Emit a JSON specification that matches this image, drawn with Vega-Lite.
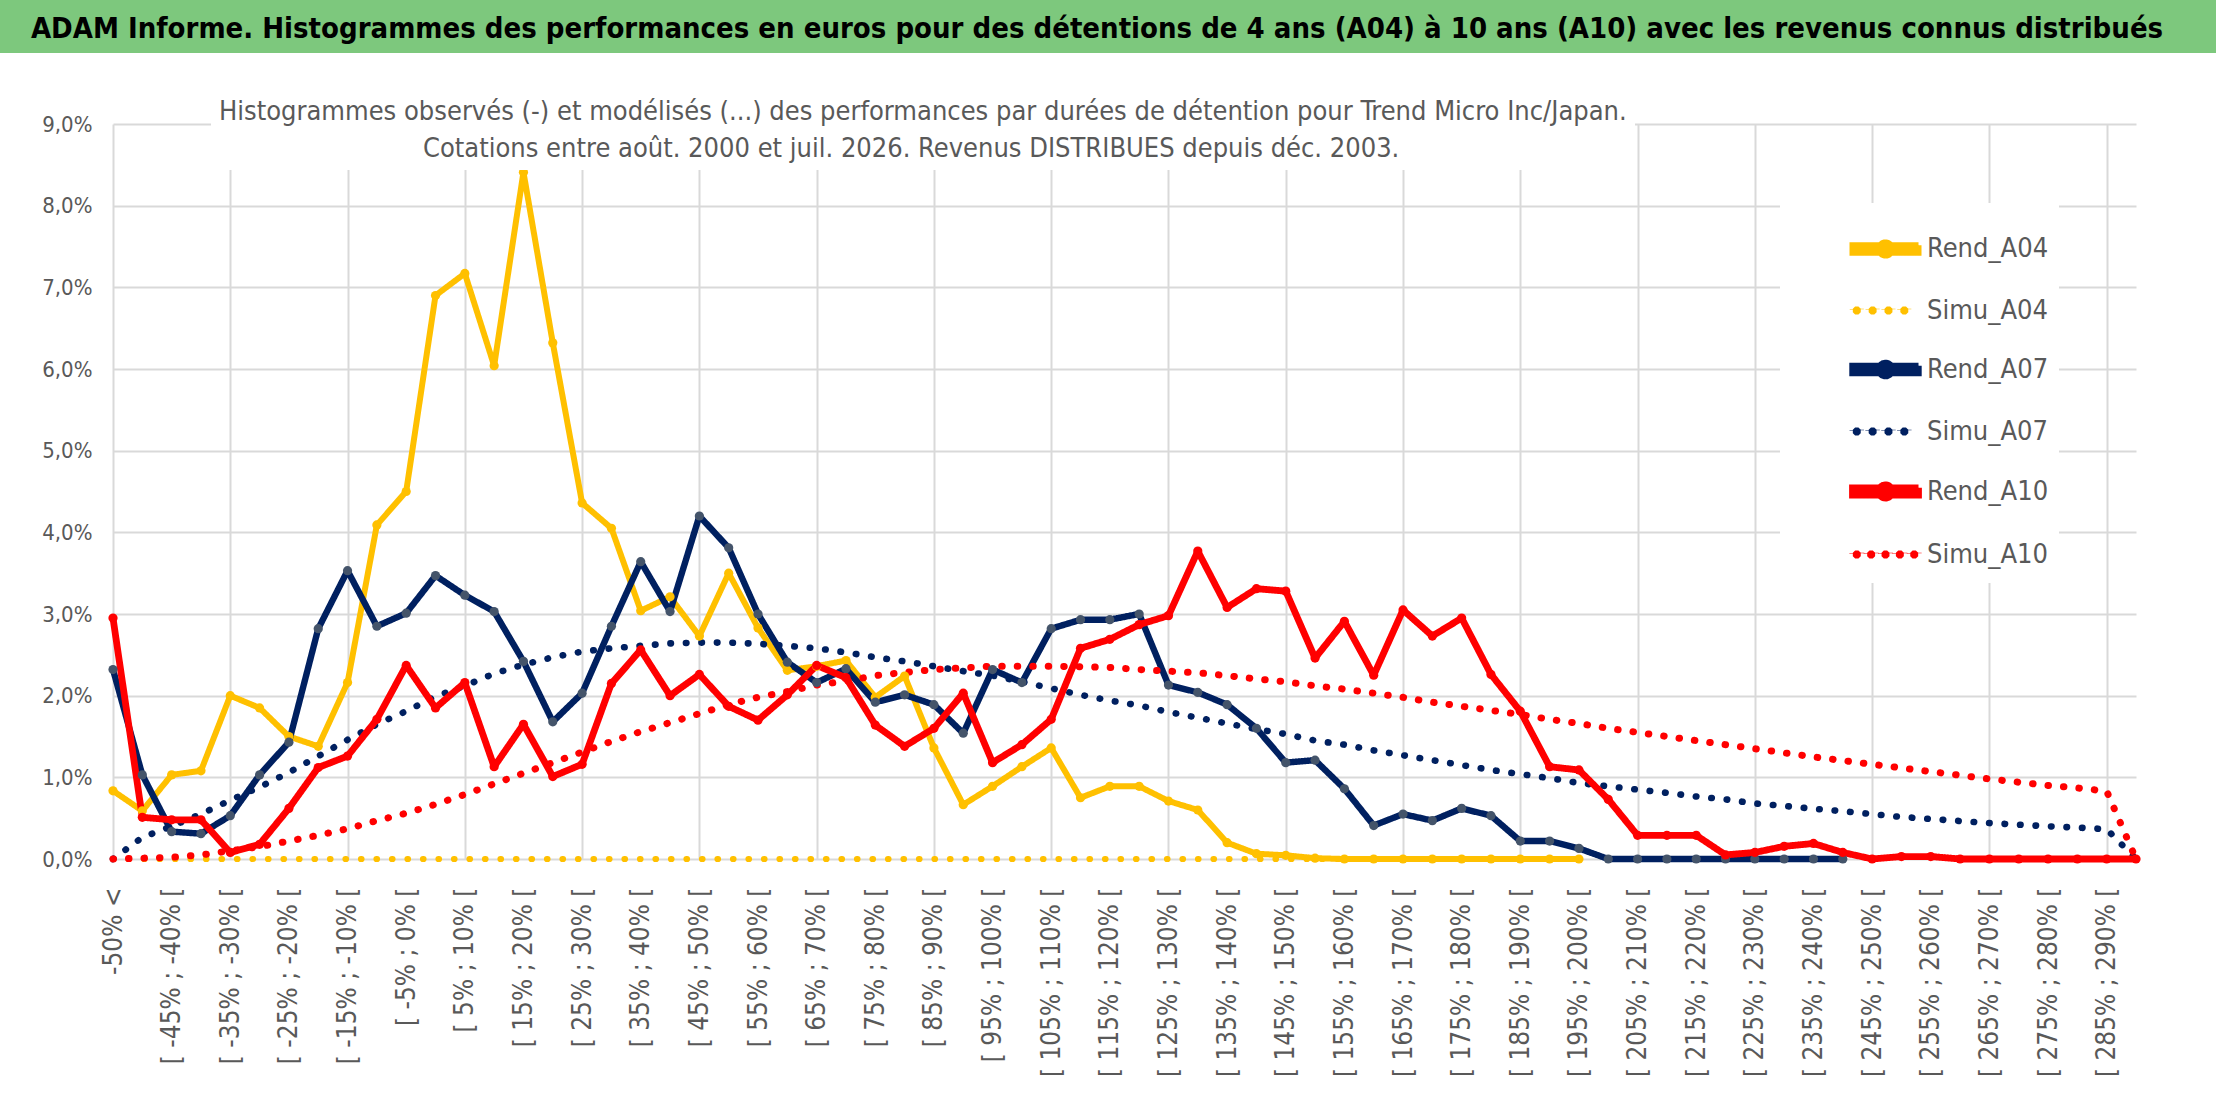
{
  "$schema": "https://vega.github.io/schema/vega-lite/v6.json",
  "background": "white",
  "padding": 0,
  "spacing": 60,
  "config": {
    "view": {"stroke": null},
    "font": "Liberation Sans Narrow, DejaVu Sans Condensed, sans-serif"
  },
  "datasets": {
    "entete": [
      {"titre": "ADAM Informe. Histogrammes des performances en euros pour des détentions de 4 ans (A04) à 10 ans (A10) avec les revenus connus distribués"}
    ],
    "vide": [],
    "perf": [
      {"classe": "-50% <", "Rend_A04": 0.835, "Simu_A04": 0, "Rend_A07": 2.32, "Simu_A07": 0.0, "Rend_A10": 2.95, "Simu_A10": 0.0},
      {"classe": "[ -50% ; -45% [", "Rend_A04": 0.59, "Simu_A04": 0, "Rend_A07": 1.03, "Simu_A07": 0.265, "Rend_A10": 0.51, "Simu_A10": 0.01},
      {"classe": "[ -45% ; -40% [", "Rend_A04": 1.03, "Simu_A04": 0, "Rend_A07": 0.335, "Simu_A07": 0.40, "Rend_A10": 0.48, "Simu_A10": 0.02},
      {"classe": "[ -40% ; -35% [", "Rend_A04": 1.08, "Simu_A04": 0, "Rend_A07": 0.31, "Simu_A07": 0.55, "Rend_A10": 0.48, "Simu_A10": 0.05},
      {"classe": "[ -35% ; -30% [", "Rend_A04": 2.00, "Simu_A04": 0, "Rend_A07": 0.53, "Simu_A07": 0.72, "Rend_A10": 0.08, "Simu_A10": 0.10},
      {"classe": "[ -30% ; -25% [", "Rend_A04": 1.85, "Simu_A04": 0, "Rend_A07": 1.03, "Simu_A07": 0.88, "Rend_A10": 0.18, "Simu_A10": 0.15},
      {"classe": "[ -25% ; -20% [", "Rend_A04": 1.50, "Simu_A04": 0, "Rend_A07": 1.43, "Simu_A07": 1.06, "Rend_A10": 0.62, "Simu_A10": 0.22},
      {"classe": "[ -20% ; -15% [", "Rend_A04": 1.38, "Simu_A04": 0, "Rend_A07": 2.82, "Simu_A07": 1.26, "Rend_A10": 1.12, "Simu_A10": 0.29},
      {"classe": "[ -15% ; -10% [", "Rend_A04": 2.16, "Simu_A04": 0, "Rend_A07": 3.53, "Simu_A07": 1.46, "Rend_A10": 1.26, "Simu_A10": 0.37},
      {"classe": "[ -10% ; -5% [", "Rend_A04": 4.09, "Simu_A04": 0, "Rend_A07": 2.85, "Simu_A07": 1.65, "Rend_A10": 1.71, "Simu_A10": 0.47},
      {"classe": "[ -5% ; 0% [", "Rend_A04": 4.50, "Simu_A04": 0, "Rend_A07": 3.01, "Simu_A07": 1.81, "Rend_A10": 2.37, "Simu_A10": 0.56},
      {"classe": "[ 0% ; 5% [", "Rend_A04": 6.90, "Simu_A04": 0, "Rend_A07": 3.47, "Simu_A07": 1.99, "Rend_A10": 1.85, "Simu_A10": 0.67},
      {"classe": "[ 5% ; 10% [", "Rend_A04": 7.17, "Simu_A04": 0, "Rend_A07": 3.23, "Simu_A07": 2.12, "Rend_A10": 2.16, "Simu_A10": 0.79},
      {"classe": "[ 10% ; 15% [", "Rend_A04": 6.04, "Simu_A04": 0, "Rend_A07": 3.03, "Simu_A07": 2.27, "Rend_A10": 1.13, "Simu_A10": 0.92},
      {"classe": "[ 15% ; 20% [", "Rend_A04": 8.41, "Simu_A04": 0, "Rend_A07": 2.42, "Simu_A07": 2.38, "Rend_A10": 1.65, "Simu_A10": 1.05},
      {"classe": "[ 20% ; 25% [", "Rend_A04": 6.32, "Simu_A04": 0, "Rend_A07": 1.68, "Simu_A07": 2.47, "Rend_A10": 1.01, "Simu_A10": 1.18},
      {"classe": "[ 25% ; 30% [", "Rend_A04": 4.36, "Simu_A04": 0, "Rend_A07": 2.03, "Simu_A07": 2.54, "Rend_A10": 1.16, "Simu_A10": 1.31},
      {"classe": "[ 30% ; 35% [", "Rend_A04": 4.05, "Simu_A04": 0, "Rend_A07": 2.85, "Simu_A07": 2.58, "Rend_A10": 2.15, "Simu_A10": 1.44},
      {"classe": "[ 35% ; 40% [", "Rend_A04": 3.04, "Simu_A04": 0, "Rend_A07": 3.64, "Simu_A07": 2.61, "Rend_A10": 2.56, "Simu_A10": 1.56},
      {"classe": "[ 40% ; 45% [", "Rend_A04": 3.21, "Simu_A04": 0, "Rend_A07": 3.03, "Simu_A07": 2.64, "Rend_A10": 2.00, "Simu_A10": 1.67},
      {"classe": "[ 45% ; 50% [", "Rend_A04": 2.73, "Simu_A04": 0, "Rend_A07": 4.20, "Simu_A07": 2.65, "Rend_A10": 2.26, "Simu_A10": 1.78},
      {"classe": "[ 50% ; 55% [", "Rend_A04": 3.50, "Simu_A04": 0, "Rend_A07": 3.81, "Simu_A07": 2.65, "Rend_A10": 1.87, "Simu_A10": 1.89},
      {"classe": "[ 55% ; 60% [", "Rend_A04": 2.83, "Simu_A04": 0, "Rend_A07": 3.00, "Simu_A07": 2.635, "Rend_A10": 1.70, "Simu_A10": 1.98},
      {"classe": "[ 60% ; 65% [", "Rend_A04": 2.31, "Simu_A04": 0, "Rend_A07": 2.41, "Simu_A07": 2.61, "Rend_A10": 2.01, "Simu_A10": 2.05},
      {"classe": "[ 65% ; 70% [", "Rend_A04": 2.36, "Simu_A04": 0, "Rend_A07": 2.16, "Simu_A07": 2.58, "Rend_A10": 2.37, "Simu_A10": 2.13},
      {"classe": "[ 70% ; 75% [", "Rend_A04": 2.43, "Simu_A04": 0, "Rend_A07": 2.33, "Simu_A07": 2.53, "Rend_A10": 2.22, "Simu_A10": 2.18},
      {"classe": "[ 75% ; 80% [", "Rend_A04": 1.98, "Simu_A04": 0, "Rend_A07": 1.92, "Simu_A07": 2.47, "Rend_A10": 1.64, "Simu_A10": 2.245},
      {"classe": "[ 80% ; 85% [", "Rend_A04": 2.24, "Simu_A04": 0, "Rend_A07": 2.01, "Simu_A07": 2.42, "Rend_A10": 1.38, "Simu_A10": 2.285},
      {"classe": "[ 85% ; 90% [", "Rend_A04": 1.36, "Simu_A04": 0, "Rend_A07": 1.89, "Simu_A07": 2.36, "Rend_A10": 1.60, "Simu_A10": 2.32},
      {"classe": "[ 90% ; 95% [", "Rend_A04": 0.665, "Simu_A04": 0, "Rend_A07": 1.54, "Simu_A07": 2.30, "Rend_A10": 2.03, "Simu_A10": 2.34},
      {"classe": "[ 95% ; 100% [", "Rend_A04": 0.89, "Simu_A04": 0, "Rend_A07": 2.32, "Simu_A07": 2.245, "Rend_A10": 1.18, "Simu_A10": 2.36},
      {"classe": "[ 100% ; 105% [", "Rend_A04": 1.13, "Simu_A04": 0, "Rend_A07": 2.16, "Simu_A07": 2.17, "Rend_A10": 1.40, "Simu_A10": 2.36},
      {"classe": "[ 105% ; 110% [", "Rend_A04": 1.36, "Simu_A04": 0, "Rend_A07": 2.82, "Simu_A07": 2.09, "Rend_A10": 1.71, "Simu_A10": 2.36},
      {"classe": "[ 110% ; 115% [", "Rend_A04": 0.75, "Simu_A04": 0, "Rend_A07": 2.93, "Simu_A07": 2.01, "Rend_A10": 2.58, "Simu_A10": 2.355},
      {"classe": "[ 115% ; 120% [", "Rend_A04": 0.89, "Simu_A04": 0, "Rend_A07": 2.93, "Simu_A07": 1.94, "Rend_A10": 2.69, "Simu_A10": 2.345},
      {"classe": "[ 120% ; 125% [", "Rend_A04": 0.89, "Simu_A04": 0, "Rend_A07": 3.00, "Simu_A07": 1.88, "Rend_A10": 2.87, "Simu_A10": 2.32},
      {"classe": "[ 125% ; 130% [", "Rend_A04": 0.71, "Simu_A04": 0, "Rend_A07": 2.13, "Simu_A07": 1.80, "Rend_A10": 2.98, "Simu_A10": 2.30},
      {"classe": "[ 130% ; 135% [", "Rend_A04": 0.60, "Simu_A04": 0, "Rend_A07": 2.04, "Simu_A07": 1.73, "Rend_A10": 3.77, "Simu_A10": 2.28},
      {"classe": "[ 135% ; 140% [", "Rend_A04": 0.20, "Simu_A04": 0, "Rend_A07": 1.89, "Simu_A07": 1.66, "Rend_A10": 3.08, "Simu_A10": 2.245},
      {"classe": "[ 140% ; 145% [", "Rend_A04": 0.065, "Simu_A04": 0, "Rend_A07": 1.60, "Simu_A07": 1.59, "Rend_A10": 3.31, "Simu_A10": 2.205},
      {"classe": "[ 145% ; 150% [", "Rend_A04": 0.045, "Simu_A04": 0, "Rend_A07": 1.18, "Simu_A07": 1.53, "Rend_A10": 3.28, "Simu_A10": 2.17},
      {"classe": "[ 150% ; 155% [", "Rend_A04": 0.01, "Simu_A04": 0, "Rend_A07": 1.21, "Simu_A07": 1.45, "Rend_A10": 2.46, "Simu_A10": 2.12},
      {"classe": "[ 155% ; 160% [", "Rend_A04": 0, "Simu_A04": 0, "Rend_A07": 0.86, "Simu_A07": 1.40, "Rend_A10": 2.91, "Simu_A10": 2.08},
      {"classe": "[ 160% ; 165% [", "Rend_A04": 0, "Simu_A04": 0, "Rend_A07": 0.41, "Simu_A07": 1.33, "Rend_A10": 2.25, "Simu_A10": 2.03},
      {"classe": "[ 165% ; 170% [", "Rend_A04": 0, "Simu_A04": 0, "Rend_A07": 0.55, "Simu_A07": 1.27, "Rend_A10": 3.05, "Simu_A10": 1.98},
      {"classe": "[ 170% ; 175% [", "Rend_A04": 0, "Simu_A04": 0, "Rend_A07": 0.47, "Simu_A07": 1.21, "Rend_A10": 2.73, "Simu_A10": 1.92},
      {"classe": "[ 175% ; 180% [", "Rend_A04": 0, "Simu_A04": 0, "Rend_A07": 0.62, "Simu_A07": 1.15, "Rend_A10": 2.95, "Simu_A10": 1.87},
      {"classe": "[ 180% ; 185% [", "Rend_A04": 0, "Simu_A04": 0, "Rend_A07": 0.53, "Simu_A07": 1.09, "Rend_A10": 2.26, "Simu_A10": 1.82},
      {"classe": "[ 185% ; 190% [", "Rend_A04": 0, "Simu_A04": 0, "Rend_A07": 0.22, "Simu_A07": 1.04, "Rend_A10": 1.81, "Simu_A10": 1.77},
      {"classe": "[ 190% ; 195% [", "Rend_A04": 0, "Simu_A04": 0, "Rend_A07": 0.22, "Simu_A07": 0.99, "Rend_A10": 1.13, "Simu_A10": 1.71},
      {"classe": "[ 195% ; 200% [", "Rend_A04": 0, "Simu_A04": 0, "Rend_A07": 0.13, "Simu_A07": 0.93, "Rend_A10": 1.09, "Simu_A10": 1.66},
      {"classe": "[ 200% ; 205% [", "Rend_A07": 0, "Simu_A07": 0.89, "Rend_A10": 0.73, "Simu_A10": 1.60},
      {"classe": "[ 205% ; 210% [", "Rend_A07": 0, "Simu_A07": 0.85, "Rend_A10": 0.29, "Simu_A10": 1.55},
      {"classe": "[ 210% ; 215% [", "Rend_A07": 0, "Simu_A07": 0.81, "Rend_A10": 0.29, "Simu_A10": 1.50},
      {"classe": "[ 215% ; 220% [", "Rend_A07": 0, "Simu_A07": 0.765, "Rend_A10": 0.29, "Simu_A10": 1.45},
      {"classe": "[ 220% ; 225% [", "Rend_A07": 0, "Simu_A07": 0.73, "Rend_A10": 0.05, "Simu_A10": 1.40},
      {"classe": "[ 225% ; 230% [", "Rend_A07": 0, "Simu_A07": 0.68, "Rend_A10": 0.08, "Simu_A10": 1.35},
      {"classe": "[ 230% ; 235% [", "Rend_A07": 0, "Simu_A07": 0.65, "Rend_A10": 0.155, "Simu_A10": 1.30},
      {"classe": "[ 235% ; 240% [", "Rend_A07": 0, "Simu_A07": 0.615, "Rend_A10": 0.19, "Simu_A10": 1.25},
      {"classe": "[ 240% ; 245% [", "Rend_A07": 0, "Simu_A07": 0.585, "Rend_A10": 0.08, "Simu_A10": 1.205},
      {"classe": "[ 245% ; 250% [", "Simu_A07": 0.55, "Rend_A10": 0, "Simu_A10": 1.16},
      {"classe": "[ 250% ; 255% [", "Simu_A07": 0.515, "Rend_A10": 0.03, "Simu_A10": 1.115},
      {"classe": "[ 255% ; 260% [", "Simu_A07": 0.49, "Rend_A10": 0.03, "Simu_A10": 1.07},
      {"classe": "[ 260% ; 265% [", "Simu_A07": 0.465, "Rend_A10": 0, "Simu_A10": 1.025},
      {"classe": "[ 265% ; 270% [", "Simu_A07": 0.44, "Rend_A10": 0, "Simu_A10": 0.98},
      {"classe": "[ 270% ; 275% [", "Simu_A07": 0.42, "Rend_A10": 0, "Simu_A10": 0.94},
      {"classe": "[ 275% ; 280% [", "Simu_A07": 0.40, "Rend_A10": 0, "Simu_A10": 0.90},
      {"classe": "[ 280% ; 285% [", "Simu_A07": 0.385, "Rend_A10": 0, "Simu_A10": 0.87},
      {"classe": "[ 285% ; 290% [", "Simu_A07": 0.365, "Rend_A10": 0, "Simu_A10": 0.83},
      {"classe": "> 290%", "Simu_A07": 0.0, "Rend_A10": 0, "Simu_A10": 0.0}
    ]
  },
  "vconcat": [
    {
      "width": 2216,
      "height": 53,
      "view": {"fill": "#7DC87D", "stroke": null},
      "data": {"name": "entete"},
      "mark": {"type": "text", "fontSize": 29, "fontWeight": "bold", "color": "#000000", "align": "center", "baseline": "middle", "dx": -11, "dy": 2},
      "encoding": {"text": {"field": "titre", "type": "nominal"}}
    },
    {
      "spacing": 0,
      "hconcat": [
        {
          "width": 1,
          "height": 1,
          "data": {"name": "vide"},
          "mark": {"type": "point", "opacity": 0}
        },
        {
          "width": 2023,
          "height": 735,
          "data": {"name": "perf"},
          "transform": [
            {"fold": ["Rend_A04", "Simu_A04", "Rend_A07", "Simu_A07", "Rend_A10", "Simu_A10"], "as": ["serie", "val"]},
            {"filter": "isValid(datum.val)"}
          ],
          "encoding": {
            "x": {
              "field": "classe",
              "type": "nominal",
              "sort": null,
              "scale": {"type": "point", "padding": 0},
              "axis": {
                "title": null,
                "values": ["-50% <", "[ -45% ; -40% [", "[ -35% ; -30% [", "[ -25% ; -20% [", "[ -15% ; -10% [", "[ -5% ; 0% [", "[ 5% ; 10% [", "[ 15% ; 20% [", "[ 25% ; 30% [", "[ 35% ; 40% [", "[ 45% ; 50% [", "[ 55% ; 60% [", "[ 65% ; 70% [", "[ 75% ; 80% [", "[ 85% ; 90% [", "[ 95% ; 100% [", "[ 105% ; 110% [", "[ 115% ; 120% [", "[ 125% ; 130% [", "[ 135% ; 140% [", "[ 145% ; 150% [", "[ 155% ; 160% [", "[ 165% ; 170% [", "[ 175% ; 180% [", "[ 185% ; 190% [", "[ 195% ; 200% [", "[ 205% ; 210% [", "[ 215% ; 220% [", "[ 225% ; 230% [", "[ 235% ; 240% [", "[ 245% ; 250% [", "[ 255% ; 260% [", "[ 265% ; 270% [", "[ 275% ; 280% [", "[ 285% ; 290% ["],
                "labelAngle": 270,
                "labelFontSize": 26,
                "labelColor": "#595959",
                "labelPadding": 28,
                "labelLimit": 400,
                "labelOverlap": false,
                "ticks": false,
                "domain": false,
                "grid": true,
                "gridColor": "#D9D9D9",
                "gridWidth": 2,
                "gridOpacity": {
                  "condition": {"test": "datum.value == '-50% <' || (toNumber(substring(datum.value, 2, indexof(datum.value, '%'))) + 35) % 20 == 0", "value": 1},
                  "value": 0
                }
              }
            },
            "y": {
              "field": "val",
              "type": "quantitative",
              "scale": {"domain": [0, 9], "nice": false},
              "axis": {
                "title": null,
                "values": [0, 1, 2, 3, 4, 5, 6, 7, 8, 9],
                "labelExpr": "replace(format(datum.value, '.1f'), '.', ',') + '%'",
                "labelFontSize": 22,
                "labelColor": "#595959",
                "labelPadding": 21,
                "ticks": false,
                "domain": false,
                "gridColor": "#D9D9D9",
                "gridWidth": 2,
                "minExtent": 112,
                "maxExtent": 112
              }
            }
          },
          "layer": [
            {
              "mark": {"type": "line", "strokeCap": "round", "strokeJoin": "round"},
              "encoding": {
                "color": {
                  "field": "serie",
                  "type": "nominal",
                  "scale": {
                    "domain": ["Rend_A04", "Simu_A04", "Rend_A07", "Simu_A07", "Rend_A10", "Simu_A10"],
                    "range": ["#FFC000", "#FFC000", "#002060", "#002060", "#FF0000", "#FF0000"]
                  },
                  "legend": {
                    "orient": "none",
                    "legendX": 1780,
                    "legendY": 203,
                    "title": null,
                    "fillColor": "white",
                    "padding": 10,
                    "symbolOffset": 59,
                    "symbolSize": 4356,
                    "rowPadding": 6,
                    "labelOffset": 5,
                    "labelFontSize": 27,
                    "labelLimit": 400,
                    "labelColor": "#595959",
                    "labelExpr": "datum.label + '\u00a0\u00a0\u00a0\u00a0\u00a0'",
                    "encode": {
                      "symbols": {
                        "update": {
                          "shape": {"signal": "indexof(datum.value, 'Rend') == 0 ? 'M-1,-0.11H1V0.11H-1Z M-0.2,0A0.2,0.2 0 1,1 0.2,0A0.2,0.2 0 1,1 -0.2,0Z' : (datum.value == 'Simu_A10' ? 'M-0.75,-0.05L-0.75,0.05L-0.82,0.12L-0.92,0.12L-0.99,0.05L-0.99,-0.05L-0.92,-0.12L-0.82,-0.12Z M-0.315,-0.05L-0.315,0.05L-0.385,0.12L-0.485,0.12L-0.555,0.05L-0.555,-0.05L-0.485,-0.12L-0.385,-0.12Z M0.12,-0.05L0.12,0.05L0.05,0.12L-0.05,0.12L-0.12,0.05L-0.12,-0.05L-0.05,-0.12L0.05,-0.12Z M0.555,-0.05L0.555,0.05L0.485,0.12L0.385,0.12L0.315,0.05L0.315,-0.05L0.385,-0.12L0.485,-0.12Z M0.99,-0.05L0.99,0.05L0.92,0.12L0.82,0.12L0.75,0.05L0.75,-0.05L0.82,-0.12L0.92,-0.12Z' : 'M-0.75,-0.05L-0.75,0.05L-0.82,0.12L-0.92,0.12L-0.99,0.05L-0.99,-0.05L-0.92,-0.12L-0.82,-0.12Z M-0.27,-0.05L-0.27,0.05L-0.34,0.12L-0.44,0.12L-0.51,0.05L-0.51,-0.05L-0.44,-0.12L-0.34,-0.12Z M0.21,-0.05L0.21,0.05L0.14,0.12L0.04,0.12L-0.03,0.05L-0.03,-0.05L0.04,-0.12L0.14,-0.12Z M0.69,-0.05L0.69,0.05L0.62,0.12L0.52,0.12L0.45,0.05L0.45,-0.05L0.52,-0.12L0.62,-0.12Z')"},
                          "fill": {"signal": "indexof(datum.value, 'A04') >= 0 ? '#FFC000' : (indexof(datum.value, 'A07') >= 0 ? '#002060' : '#FF0000')"},
                          "stroke": {"value": "transparent"},
                          "strokeWidth": {"value": 0},
                          "opacity": {"value": 1}
                        }
                      }
                    }
                  }
                },
                "strokeDash": {
                  "field": "serie",
                  "type": "nominal",
                  "scale": {
                    "domain": ["Rend_A04", "Simu_A04", "Rend_A07", "Simu_A07", "Rend_A10", "Simu_A10"],
                    "range": [[1, 0], [0.5, 15], [1, 0], [0.5, 15], [1, 0], [0.5, 15]]
                  },
                  "legend": null
                },
                "strokeWidth": {
                  "field": "serie",
                  "type": "nominal",
                  "scale": {
                    "domain": ["Rend_A04", "Simu_A04", "Rend_A07", "Simu_A07", "Rend_A10", "Simu_A10"],
                    "range": [6, 7, 6, 7, 6, 7]
                  },
                  "legend": null
                }
              }
            },
            {
              "mark": {"type": "point", "filled": true, "strokeWidth": 0},
              "encoding": {
                "fill": {
                  "condition": [
                    {"test": "datum.serie == 'Rend_A04'", "value": "#FFC000"},
                    {"test": "datum.serie == 'Rend_A07'", "value": "#44546A"},
                    {"test": "datum.serie == 'Rend_A10'", "value": "#FF0000"}
                  ],
                  "value": "transparent"
                },
                "size": {
                  "field": "val",
                  "type": "quantitative",
                  "scale": {"range": [85, 85]},
                  "legend": {
                    "orient": "none",
                    "legendX": 211,
                    "legendY": 91,
                    "values": [],
                    "title": [
                      "Histogrammes observés (-) et modélisés (...) des performances par durées de détention pour Trend Micro Inc/Japan.",
                      ""
                    ],
                    "titleFontSize": 27,
                    "titleFontWeight": "normal",
                    "titleColor": "#595959",
                    "titleLineHeight": 37,
                    "titleAlign": "left",
                    "titleAnchor": "start",
                    "titleLimit": 2000,
                    "titlePadding": 0,
                    "fillColor": "white",
                    "padding": 8
                  }
                },
                "opacity": {
                  "field": "classe",
                  "type": "nominal",
                  "scale": {"range": [1, 1]},
                  "legend": {
                    "orient": "none",
                    "legendX": 419,
                    "legendY": 132,
                    "values": [],
                    "title": "Cotations entre août. 2000 et juil. 2026. Revenus DISTRIBUES depuis déc. 2003.",
                    "titleFontSize": 27,
                    "titleFontWeight": "normal",
                    "titleColor": "#595959",
                    "titleAlign": "left",
                    "titleAnchor": "start",
                    "titleLimit": 2000,
                    "titlePadding": 0,
                    "fillColor": "white",
                    "padding": 4
                  }
                }
              }
            }
          ]
        }
      ]
    }
  ]
}
